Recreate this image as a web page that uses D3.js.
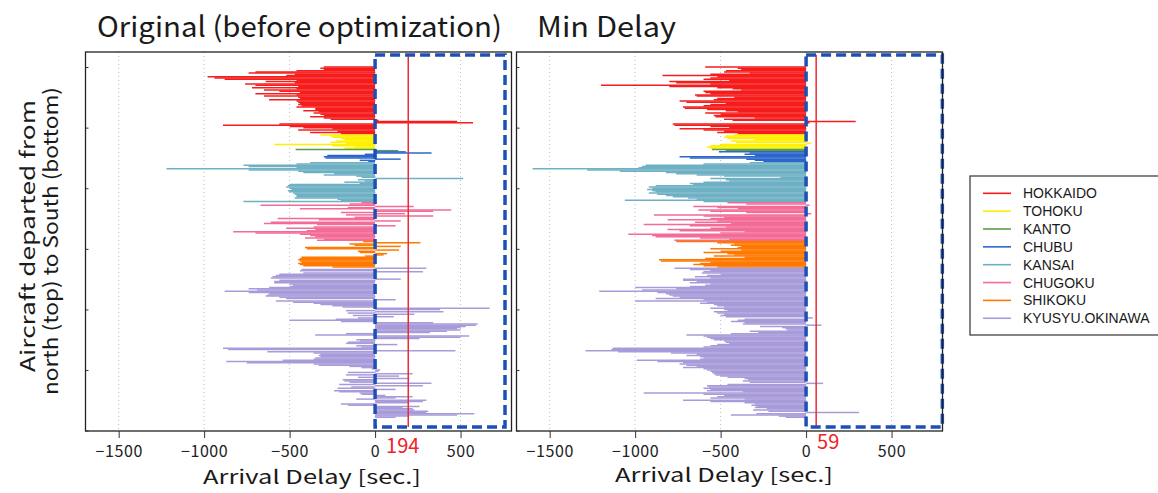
<!DOCTYPE html>
<html>
<head>
<meta charset="utf-8">
<script src="https://cdn.jsdelivr.net/npm/d3@7"></script>
<style>
	body { margin: 0; background: #fff; }
	svg { display: block; }
</style>
</head>
<body>
<div data-chart></div>
<script>
/* Regions, north to south */
const regions = ['HOKKAIDO', 'TOHOKU', 'KANTO', 'CHUBU', 'KANSAI', 'CHUGOKU', 'SHIKOKU', 'KYUSYU.OKINAWA']
const regionColors = ['#f61c1c', '#fff000', '#5a9e48', '#2c66cc', '#6eb0c4', '#f36b97', '#ff7800', '#a99bd9']

/* Arrival delay [sec.] per flight, original schedule */
const hokkaidoOriginal = [-300, -320, -300, -460, -700, -740, -470, -520, -980, -940, -880, -460, -640, -470, -760, -700, -450, -720, -460, -650, -560, -440, -700, -460, -650, -450, -440, -620, -460, -450, -440, -450, -430, -460, -350, -350, -420, -330, -360, -320, -300, -380, -300, -260, 20, 480, 573, -560, -890, -500, -420, -250, -450, -220, -380, -200]
const tohokuOriginal = [-320, -260, -250, -200, -180, -230, -260, -170, -590, -250, -120, -180]
const kantoOriginal = [-465, 136]
const chubuOriginal = [180, 330, -60, -280, -300, -290, 150, -90, -40]
const kansaiOriginal = [-380, -460, -770, -740, -460, -1220, -740, -450, -420, -240, -300, -110, -80, 515, -100, -60, -180, -90, -500, -510, -520, -500, -490, -510, -500, -480, -470, -460, -460, -470, -220, -200, -770]
const chugokuOriginal = [-80, -150, -670, 225, -160, -440, 445, 340, -200, 175, -170, 340, -120, -570, -330, 150, -610, -650, -340, 120, -360, -520, -350, -400, -830, -700, -440, -380, -350, -410, -300, -340]
const shikokuOriginal = [-70, 265, -150, -120, 150, -410, -400, 140, -100, -90, 70, 50, -60, -430, -440, -450, -440, -430, -450, -440, -420, -250]
const kyusyuOriginal = [
	300, -430, -440, 280, -420, -560, -580, -600, -610, 150,
	-560, -590, -590, -500, -480, -500, -620, -740, -690, -880,
	-740, -620, -630, -640, -560, -520, 120, -580, -480, -360,
	-320, -250, -190, 670, 380, -170, 400, -160, 230, -130,
	110, -100, -230, -500, -200, 340, 600, 590, 530, 500,
	480, 500, 420, 320, -170, -350, 550, 500, 260, -110,
	-90, -160, -170, 130, -110, -80, -890, -860, 470, -630,
	-360, -320, -330, -320, -350, -360, -540, -870, -750, -360,
	-330, -150, -80, -20, 30, 20, -160, 220, -170, 140,
	-100, 200, -190, -180, -150, 330, -210, 280, -140, -220,
	120, -240, -210, -90, -80, 60, 220, 120, -110, 300,
	280, 200, -200, -160, 260, 160, 220, 230, 310, 300,
	580, 480, 200, 120
]

/* Arrival delay [sec.] per flight, min delay schedule */
const hokkaidoMin = [-590, -400, -380, -470, -480, -330, -560, -840, -520, -560, -600, -450, -800, -760, -560, -1200, -800, -520, -430, -380, -600, -590, -560, -650, -640, -420, -520, -540, -740, -700, -470, -560, -600, -720, -710, -580, -470, -400, -590, -500, -540, -530, -300, -480, -430, 290, 20, -780, -770, -560, -450, -740, -600, -480, -520, -400]
const tohokuMin = [-420, -470, -480, -460, -300, -440, -410, 30, -500, -560, -580, -560]
const kantoMin = [-550, -470]
const chubuMin = [-510, -330, -360, -300, -740, -680, -350, -300, -250]
const kansaiMin = [-330, -600, -940, -960, -980, -1600, -1280, -1090, -820, -760, -640, -480, -150, -560, -470, -450, -600, -680, -660, -880, -920, -900, -930, -900, -880, -920, -870, -820, -780, -690, -640, -1060, -600]
const chugokuMin = [-460, -350, 20, -660, -520, -400, -630, -560, -350, 30, -890, -600, -480, -560, -810, -520, -650, -440, -950, -680, -470, -560, -810, -740, -360, -500, -1040, -900, -880, -620, -450, -770]
const shikokuMin = [-760, -520, -420, -440, -380, -400, -560, -380, -500, -600, -460, -420, -540, -360, -590, -860, -850, -560, -620, -660, -600, -520]
const kyusyuMin = [
	-770, -680, -560, -600, -610, -500, -580, -650, -560, -720,
	-720, -640, -680, -560, -590, -680, -1000, -760, -960, -1210,
	-870, -820, -800, -780, -740, -880, -600, -1000, -580, -620,
	-540, -520, -480, -560, -480, -460, -540, -520, -480, -500,
	-470, 40, -360, -400, -440, -360, -370, 90, -270, -140,
	-120, -110, -330, -280, -440, -700, -600, -580, -560, -540,
	-480, -470, -450, -520, -560, -600, -1130, -1140, -1290, -1100,
	-790, -640, -700, -620, -600, -620, -990, -870, -720, -740,
	-700, -640, -720, -600, -580, -560, -550, -540, -530, -500,
	-460, -360, -340, -370, -330, 100, -460, -580, -570, -600,
	-560, -580, -370, -950, -600, -480, -520, -560, -360, -720,
	-560, -360, -300, -320, -290, -300, -230, -310, -220, 310,
	-290, -440, -160, -120
]

/* Mean delays and axes */
const meanOriginal = 194
const meanMin = 59
const xTicks = [-1500, -1000, -500, 0, 500]
const yTicks = [0, 50, 100, 150, 200, 250, 300]
const xDomain = [-1694, 798]
const yDomain = [-12.4, 300.3]

const dimensions = {
	width: 1158,
	height: 493,
	top: 52,
	bottom: 431
}

const buildFlights = (byRegion) => {
	return byRegion
		.flatMap((values, r) => values.map((delay) => ({ region: regions[r], delay })))
		.map((d, i) => ({ ...d, index: i }))
}

const colorScale = d3.scaleOrdinal().domain(regions).range(regionColors)
const formatTick = d3.format('d')

const panels = [
	{
		title: 'Original (before optimization)',
		titleX: 97,
		titleWidth: 405,
		left: 85.5,
		right: 511.5,
		flights: buildFlights([hokkaidoOriginal, tohokuOriginal, kantoOriginal, chubuOriginal, kansaiOriginal, chugokuOriginal, shikokuOriginal, kyusyuOriginal]),
		mean: meanOriginal,
		meanLabelY: 453,
		box: [0, 760, -10, 297],
		xTitleX: 312,
		xTitleY: 484
	},
	{
		title: 'Min Delay',
		titleX: 537,
		titleWidth: 139,
		left: 516.5,
		right: 942.5,
		flights: buildFlights([hokkaidoMin, tohokuMin, kantoMin, chubuMin, kansaiMin, chugokuMin, shikokuMin, kyusyuMin]),
		mean: meanMin,
		meanLabelY: 449,
		box: [0, 797, -10, 297],
		xTitleX: 724,
		xTitleY: 482
	}
]

const gothic = '"Noto Sans CJK JP", "Noto Sans", sans-serif'

const drawPanel = (svg, panel) => {
	const xScale = d3.scaleLinear()
		.domain(xDomain)
		.range([panel.left, panel.right])

	const yScale = d3.scaleLinear()
		.domain(yDomain)
		.range([dimensions.top, dimensions.bottom])

	const g = svg.append('g')

	/* Grid */
	g.append('g')
		.selectAll('line')
		.data(xTicks)
		.join('line')
		.attr('x1', xScale)
		.attr('x2', xScale)
		.attr('y1', dimensions.top)
		.attr('y2', dimensions.bottom)
		.attr('stroke', '#bdbdbd')
		.attr('stroke-width', 1)
		.attr('stroke-dasharray', '1,3')

	/* Flights */
	g.append('g')
		.selectAll('line')
		.data(panel.flights)
		.join('line')
		.attr('x1', xScale(0))
		.attr('x2', (d) => xScale(d.delay))
		.attr('y1', (d) => yScale(d.index))
		.attr('y2', (d) => yScale(d.index))
		.attr('stroke', (d) => colorScale(d.region))
		.attr('stroke-width', 1.5)

	/* Mean delay */
	g.append('line')
		.attr('x1', xScale(panel.mean))
		.attr('x2', xScale(panel.mean))
		.attr('y1', yScale(panel.box[2]))
		.attr('y2', yScale(panel.box[3]))
		.attr('stroke', '#ee2a36')
		.attr('stroke-width', 1.5)

	g.append('text')
		.attr('x', xScale(0) + 11)
		.attr('y', panel.meanLabelY)
		.attr('fill', '#ee2228')
		.attr('font-family', gothic)
		.attr('font-size', 20)
		.text(panel.mean)

	/* Highlight box */
	const [bx0, bx1, by0, by1] = panel.box
	g.append('rect')
		.attr('x', xScale(bx0))
		.attr('y', yScale(by0))
		.attr('width', xScale(bx1) - xScale(bx0))
		.attr('height', yScale(by1) - yScale(by0))
		.attr('fill', 'none')
		.attr('stroke', '#1c4fb8')
		.attr('stroke-width', 3.5)
		.attr('stroke-dasharray', '10,5')

	/* Frame */
	g.append('rect')
		.attr('x', panel.left)
		.attr('y', dimensions.top)
		.attr('width', panel.right - panel.left)
		.attr('height', dimensions.bottom - dimensions.top)
		.attr('fill', 'none')
		.attr('stroke', '#222')
		.attr('stroke-width', 1.3)

	/* Axes */
	const xAxis = g.append('g')
		.attr('transform', `translate(0, ${dimensions.bottom})`)
		.call(d3.axisBottom(xScale).tickValues(xTicks).tickSize(7).tickPadding(8).tickFormat(formatTick))
	xAxis.select('.domain').remove()
	xAxis.selectAll('line').attr('stroke', '#333')
	xAxis.selectAll('text')
		.attr('font-family', gothic)
		.attr('font-size', 16)
		.attr('letter-spacing', 0.6)
		.attr('fill', '#222')

	const yAxis = g.append('g')
		.attr('transform', `translate(${panel.left}, 0)`)
		.call(d3.axisLeft(yScale).tickValues(yTicks).tickSize(-3).tickFormat(''))
	yAxis.select('.domain').remove()
	yAxis.selectAll('line').attr('stroke', '#333')

	/* Titles */
	g.append('text')
		.attr('x', panel.titleX)
		.attr('y', 37)
		.attr('font-family', gothic)
		.attr('font-size', 28)
		.attr('fill', '#1a1a1a')
		.attr('textLength', panel.titleWidth)
		.attr('lengthAdjust', 'spacingAndGlyphs')
		.text(panel.title)

	g.append('text')
		.attr('x', panel.xTitleX)
		.attr('y', panel.xTitleY)
		.attr('text-anchor', 'middle')
		.attr('font-family', gothic)
		.attr('font-size', 19)
		.attr('fill', '#1a1a1a')
		.attr('textLength', 218)
		.attr('lengthAdjust', 'spacingAndGlyphs')
		.text('Arrival Delay [sec.]')
}

const drawLegend = (svg) => {
	const legend = svg.append('g')

	legend.append('rect')
		.attr('x', 970)
		.attr('y', 176)
		.attr('width', 220)
		.attr('height', 159)
		.attr('fill', '#fff')
		.attr('stroke', '#333')
		.attr('stroke-width', 1.2)

	const items = legend.selectAll('g.item')
		.data(regions)
		.join('g')
		.attr('class', 'item')
		.attr('transform', (d, i) => `translate(0, ${193.3 + i * 17.85})`)

	items.append('line')
		.attr('x1', 983)
		.attr('x2', 1011)
		.attr('stroke', (d) => colorScale(d))
		.attr('stroke-width', 1.6)

	items.append('text')
		.attr('x', 1023)
		.attr('dy', '0.36em')
		.attr('font-family', '"Liberation Sans", Arial, sans-serif')
		.attr('font-size', 14)
		.attr('fill', '#1a1a1a')
		.text((d) => d)
}

const draw = () => {
	const svg = d3.select('[data-chart]')
		.append('svg')
		.attr('width', dimensions.width)
		.attr('height', dimensions.height)
		.attr('viewBox', `0 0 ${dimensions.width} ${dimensions.height}`)

	svg.append('rect')
		.attr('width', dimensions.width)
		.attr('height', dimensions.height)
		.attr('fill', '#fff')

	panels.forEach((panel) => drawPanel(svg, panel))

	/* Y axis title */
	const yTitle = svg.append('g')
		.attr('font-family', gothic)
		.attr('font-size', 20)
		.attr('fill', '#1a1a1a')
		.attr('text-anchor', 'middle')

	yTitle.append('text')
		.attr('transform', 'translate(35, 236) rotate(-90)')
		.attr('textLength', 272)
		.attr('lengthAdjust', 'spacingAndGlyphs')
		.text('Aircraft departed from')

	yTitle.append('text')
		.attr('transform', 'translate(58, 241) rotate(-90)')
		.attr('textLength', 308)
		.attr('lengthAdjust', 'spacingAndGlyphs')
		.text('north (top) to South (bottom)')

	drawLegend(svg)
}

draw()
</script>
</body>
</html>
